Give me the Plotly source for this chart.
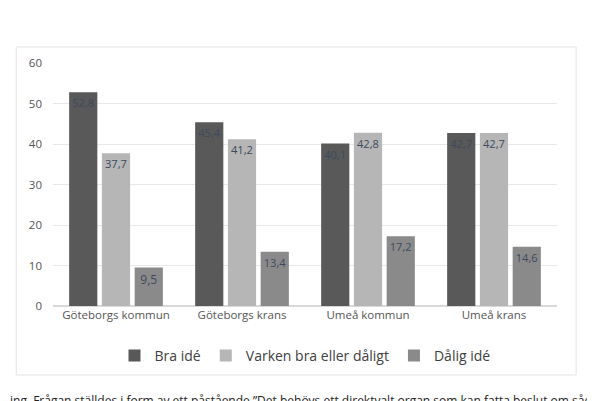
import plotly.graph_objects as go

# kategorier och andelar (%)
omraden = ["Göteborgs kommun", "Göteborgs krans", "Umeå kommun", "Umeå krans"]
bra_ide = [52.8, 45.4, 40.1, 42.7]
varken = [37.7, 41.2, 42.8, 42.7]
dalig_ide = [9.5, 13.4, 17.2, 14.6]

serier = [
    ("Bra idé", bra_ide, "#595959"),
    ("Varken bra eller dåligt", varken, "#b6b6b6"),
    ("Dålig idé", dalig_ide, "#8a8a8a"),
]

fig = go.Figure()
for namn, varden, farg in serier:
    fig.add_trace(go.Bar(
        x=omraden, y=varden, name=namn,
        marker=dict(color=farg, line=dict(width=0)),
        texttemplate="%{y:.1f}", textposition="inside",
        insidetextanchor="end",
        textfont=dict(family="Open Sans", size=12, color="#3d4a5e"),
        textangle=0,
    ))

# sidan har 8 px marginal i webbläsaren, därför lite mindre figur
fig.update_layout(
    width=587, height=393,
    margin=dict(l=45, r=38, t=55, b=95),
    paper_bgcolor="white", plot_bgcolor="white",
    separators=", ",
    barmode="group", bargap=0.22, bargroupgap=0.14,
    font=dict(family="Open Sans", color="#555555"),
    showlegend=True,
    legend=dict(orientation="h", x=0.5, xanchor="center", y=-0.14, yanchor="top",
                font=dict(size=14, color="#404040"), traceorder="normal"),
)
fig.update_xaxes(tickfont=dict(size=11.5, color="#555555"), showline=False, ticks="")
fig.update_yaxes(range=[0, 60], dtick=10, tickfont=dict(size=11.5, color="#555555"),
                 gridcolor="#e8e8e8", zeroline=True, zerolinecolor="#d9d9d9",
                 ticklabelstandoff=10)

# ram runt diagrammet
fig.add_shape(type="rect", xref="paper", yref="paper",
              x0=-0.073, x1=1.038, y0=-0.284, y1=1.066,
              line=dict(color="#e3e3e3", width=1))

fig.add_annotation(
    xref="paper", yref="paper", x=-0.089, y=-0.346, xanchor="left", yanchor="top",
    showarrow=False, align="left",
    text="ing. Frågan ställdes i form av ett påstående ”Det behövs ett direktvalt organ som kan fatta beslut om sådana",
    font=dict(family="Open Sans", size=12, color="#222222"),
)

fig.write_html("out.html")
